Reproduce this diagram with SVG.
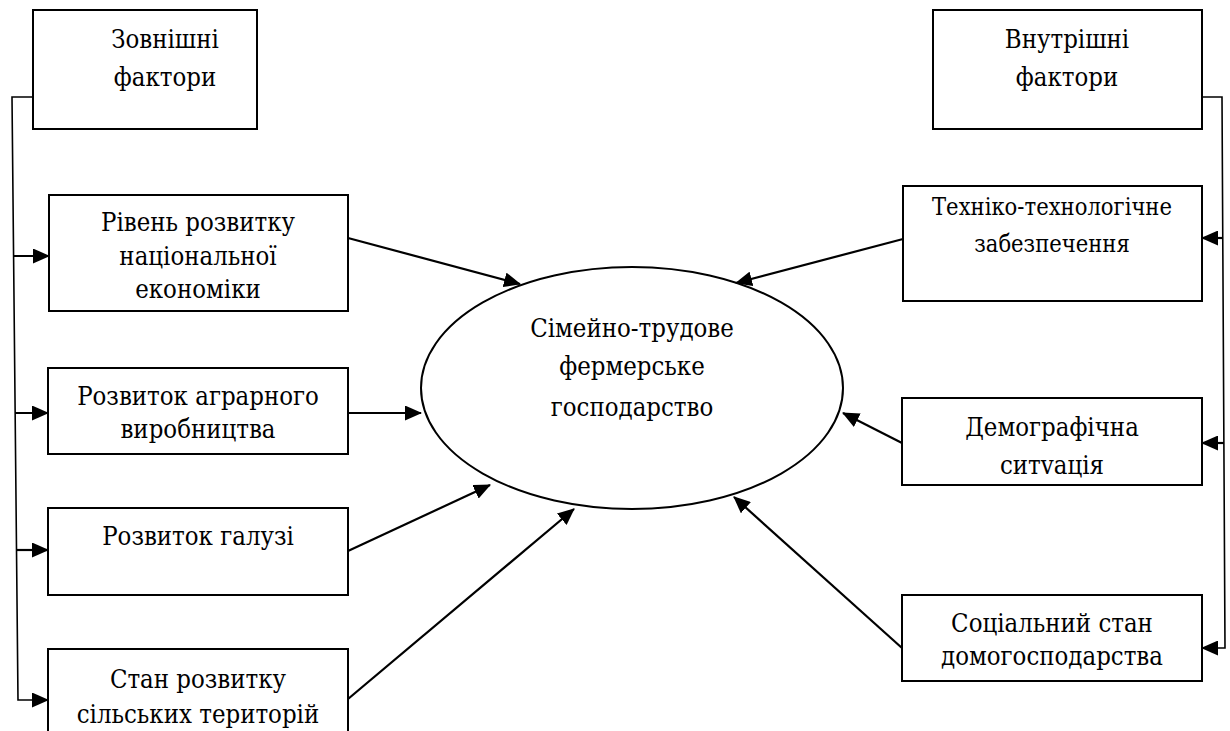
<svg xmlns="http://www.w3.org/2000/svg" width="1230" height="731" viewBox="0 0 1230 731">
<style>
.box{fill:#fff;stroke:#000;stroke-width:2}
.t{font-size:25.5px;fill:#000;text-anchor:middle}
.ts{font-size:23.5px}
.c{fill:none;stroke:#000;stroke-width:2.2}
.b{fill:none;stroke:#000;stroke-width:1.6}
</style>
<defs>
<marker id="ah" markerUnits="userSpaceOnUse" markerWidth="17" markerHeight="15" viewBox="0 0 17 15" refX="16" refY="7.5" orient="auto">
<path d="M0,0 L17,7.5 L0,15 Z" fill="#000"/>
</marker>
</defs>
<rect width="1230" height="731" fill="#fff"/>

<g font-family="DejaVu Serif Condensed">
<g id="ext">
<rect class="box" x="33" y="10" width="224" height="119"/>
<text class="t" x="165" y="48">Зовнішні</text>
<text class="t" x="165" y="86">фактори</text>
</g>
<g id="int">
<rect class="box" x="933" y="10" width="269" height="119"/>
<text class="t" x="1067" y="48">Внутрішні</text>
<text class="t" x="1067" y="86">фактори</text>
</g>

<g id="n1">
<rect class="box" x="49" y="195" width="299" height="116"/>
<text class="t" x="198" y="231">Рівень розвитку</text>
<text class="t" x="198" y="265">національної</text>
<text class="t" x="198" y="298">економіки</text>
</g>
<g id="n2">
<rect class="box" x="48" y="368" width="300" height="86"/>
<text class="t" x="198" y="405">Розвиток аграрного</text>
<text class="t" x="198" y="438">виробництва</text>
</g>
<g id="n3">
<rect class="box" x="48" y="508" width="300" height="87"/>
<text class="t" x="198" y="545">Розвиток галузі</text>
</g>
<g id="n4">
<rect class="box" x="48" y="649" width="300" height="100"/>
<text class="t" x="198" y="688">Стан розвитку</text>
<text class="t" x="198" y="723">сільських територій</text>
</g>

<g id="center">
<ellipse class="box" cx="632" cy="388" rx="211" ry="121"/>
<text class="t" x="632" y="337">Сімейно-трудове</text>
<text class="t" x="632" y="375">фермерське</text>
<text class="t" x="632" y="416">господарство</text>
</g>

<g id="r1">
<rect class="box" x="903" y="186" width="299" height="115"/>
<text class="t ts" x="1052" y="215">Техніко-технологічне</text>
<text class="t ts" x="1052" y="252">забезпечення</text>
</g>
<g id="r2">
<rect class="box" x="902" y="398" width="300" height="87"/>
<text class="t" x="1052" y="436">Демографічна</text>
<text class="t" x="1052" y="474">ситvація</text>
</g>
<g id="r3">
<rect class="box" x="902" y="595" width="300" height="86"/>
<text class="t" x="1052" y="632">Соціальний стан</text>
<text class="t" x="1052" y="665">домогосподарства</text>
</g>
</g>

<g id="connectors">
<polyline class="b" points="33,97 12,97 18,700 48,700" marker-end="url(#ah)"/>
<line class="c" x1="13" y1="256" x2="49" y2="256" marker-end="url(#ah)"/>
<line class="c" x1="15" y1="413" x2="48" y2="413" marker-end="url(#ah)"/>
<line class="c" x1="16" y1="550" x2="48" y2="550" marker-end="url(#ah)"/>

<polyline class="b" points="1202,97 1222,97 1225,648 1202,648" marker-end="url(#ah)"/>
<line class="c" x1="1223" y1="238" x2="1202" y2="238" marker-end="url(#ah)"/>
<line class="c" x1="1224" y1="443" x2="1202" y2="443" marker-end="url(#ah)"/>

<line class="c" x1="348" y1="238" x2="520" y2="284" marker-end="url(#ah)"/>
<line class="c" x1="348" y1="413" x2="421" y2="413" marker-end="url(#ah)"/>
<line class="c" x1="348" y1="551" x2="490" y2="485" marker-end="url(#ah)"/>
<line class="c" x1="348" y1="699" x2="574" y2="509" marker-end="url(#ah)"/>

<line class="c" x1="903" y1="239" x2="736" y2="283" marker-end="url(#ah)"/>
<line class="c" x1="902" y1="443" x2="843" y2="413" marker-end="url(#ah)"/>
<line class="c" x1="902" y1="648" x2="734" y2="497" marker-end="url(#ah)"/>
</g>
</svg>
